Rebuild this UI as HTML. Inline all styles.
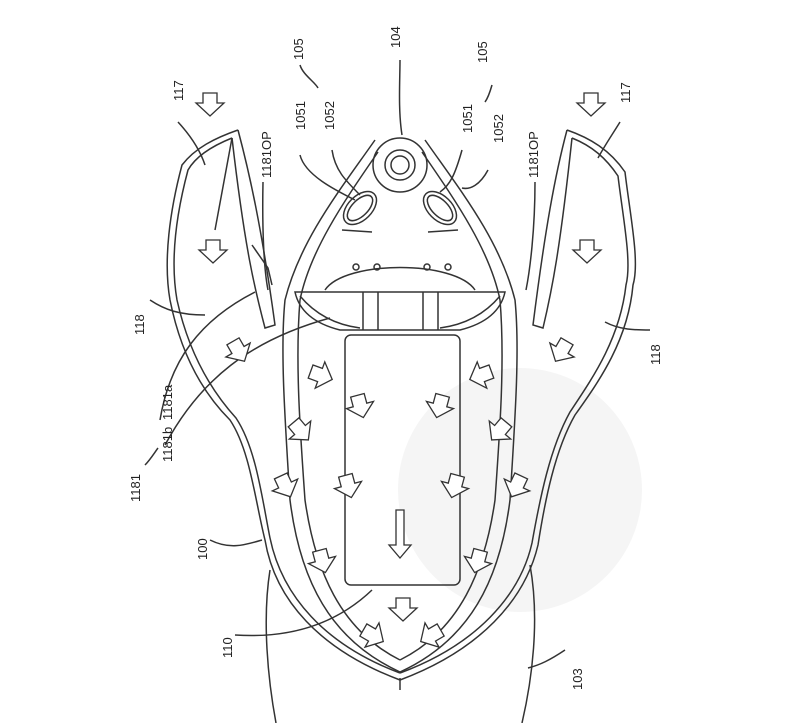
<!DOCTYPE html>
<html><head><style>
html,body{margin:0;padding:0;background:#fff;}
svg{display:block;}
text{font-family:"Liberation Sans",sans-serif;font-size:13px;fill:#222;}
</style></head><body>
<svg width="800" height="723" viewBox="0 0 800 723" xmlns="http://www.w3.org/2000/svg">
<defs>
<path id="ar" d="M-7,-10 L7,-10 L7,0 L14,0 L0,13 L-14,0 L-7,0 Z" fill="#fff" stroke="#333" stroke-width="1.3"/>
</defs>
<circle cx="520" cy="490" r="122" fill="#f5f5f5"/>
<g fill="none" stroke="#333" stroke-width="1.5">
<!-- trunk 103 -->
<path d="M270,570 C262,620 268,680 276,723"/>
<path d="M530,565 C540,620 532,680 522,723"/>
<!-- outer body left -->
<path d="M238,130 C215,138 195,148 182,165 C170,210 163,260 170,300 C180,350 200,390 230,420 C250,450 255,500 265,540 C275,600 320,650 400,680"/>
<path d="M232,138 C212,146 196,156 188,170 C176,215 170,260 177,300 C187,345 206,385 236,418 C256,448 262,498 270,538 C282,596 325,645 400,673"/>
<!-- outer body right -->
<path d="M567,130 C590,138 610,150 625,172 C630,215 640,262 633,285 C628,340 600,380 575,415 C555,450 545,500 538,545 C525,600 480,650 400,680"/>
<path d="M572,138 C592,146 606,158 618,176 C623,218 632,262 626,285 C620,338 594,376 570,412 C550,448 540,498 532,543 C520,596 476,645 400,673"/>
<!-- wing inner edges -->
<path d="M238,130 C250,175 262,230 275,325 L265,328 C255,290 245,250 232,138"/>
<path d="M567,130 C555,175 545,230 533,325 L543,328 C552,290 560,250 572,138"/>
<path d="M215,230 L232,138 M252,245 L268,268 L272,285"/>
<!-- V frame -->
<path d="M375,140 C340,190 300,240 285,300 C280,350 285,420 290,500 C300,580 330,640 400,672"/>
<path d="M425,140 C460,190 500,240 515,300 C520,350 515,420 510,500 C500,580 470,640 400,672"/>
<path d="M378,152 C345,200 310,250 300,300 C295,360 300,430 305,500 C315,570 340,630 400,660"/>
<path d="M422,152 C455,200 490,250 500,300 C505,360 500,430 495,500 C485,570 460,630 400,660"/>
<!-- nose -->
<circle cx="400" cy="165" r="27"/>
<circle cx="400" cy="165" r="15"/>
<circle cx="400" cy="165" r="9"/>
<!-- ovals -->
<ellipse cx="360" cy="208" rx="12" ry="20" transform="rotate(45 360 208)"/>
<ellipse cx="360" cy="208" rx="8" ry="16" transform="rotate(45 360 208)"/>
<ellipse cx="440" cy="208" rx="12" ry="20" transform="rotate(-45 440 208)"/>
<ellipse cx="440" cy="208" rx="8" ry="16" transform="rotate(-45 440 208)"/>
<path d="M342,230 L372,232 M428,232 L458,230"/>
<!-- shield -->
<path d="M325,290 C345,260 455,260 475,290"/>
<path d="M295,292 L505,292 C500,315 480,325 460,330 L340,330 C320,325 300,315 295,292 Z"/>
<path d="M300,296 C320,320 345,326 360,328 M500,296 C480,320 455,326 440,328"/>
<path d="M363,292 L363,330 M378,292 L378,330 M423,292 L423,330 M438,292 L438,330"/>
<circle cx="356" cy="267" r="3"/><circle cx="377" cy="267" r="3"/><circle cx="427" cy="267" r="3"/><circle cx="448" cy="267" r="3"/>
<!-- box -->
<rect x="345" y="335" width="115" height="250" rx="6"/>
<!-- leader lines -->
<path d="M178,122 C190,135 200,150 205,165"/>
<path d="M620,122 C612,135 605,145 598,158"/>
<path d="M300,65 C303,75 315,82 318,88"/>
<path d="M492,85 C490,92 488,98 485,102"/>
<path d="M400,60 C400,80 398,110 402,135"/>
<path d="M300,155 C305,175 335,190 355,200"/>
<path d="M332,150 C335,170 345,180 360,195"/>
<path d="M462,150 C455,175 450,185 440,192"/>
<path d="M488,170 C480,185 470,190 462,188"/>
<path d="M263,182 C262,230 264,270 268,290"/>
<path d="M535,182 C535,230 530,270 526,290"/>
<path d="M150,300 C165,310 180,315 205,315"/>
<path d="M650,330 C635,330 620,330 605,322"/>
<path d="M160,420 C170,360 200,320 255,292"/>
<path d="M165,445 C200,380 250,340 330,318"/>
<path d="M145,465 C150,460 155,452 158,448"/>
<path d="M210,540 C230,550 245,545 262,540"/>
<path d="M235,635 C280,638 330,630 372,590"/>
<path d="M565,650 C550,660 540,665 528,668"/>
<path d="M400,678 L400,690"/>
</g>
<!-- arrows -->
<use href="#ar" transform="translate(210,103)"/>
<use href="#ar" transform="translate(591,103)"/>
<use href="#ar" transform="translate(213,250)"/>
<use href="#ar" transform="translate(587,250)"/>
<use href="#ar" transform="translate(238,350) rotate(-30)"/>
<use href="#ar" transform="translate(562,350) rotate(30)"/>
<use href="#ar" transform="translate(320,375) rotate(-70)"/>
<use href="#ar" transform="translate(482,375) rotate(70)"/>
<use href="#ar" transform="translate(360,405) rotate(-15)"/>
<use href="#ar" transform="translate(440,405) rotate(15)"/>
<use href="#ar" transform="translate(300,430) rotate(-40)"/>
<use href="#ar" transform="translate(500,430) rotate(40)"/>
<use href="#ar" transform="translate(285,485) rotate(-25)"/>
<use href="#ar" transform="translate(348,485) rotate(-15)"/>
<use href="#ar" transform="translate(455,485) rotate(15)"/>
<use href="#ar" transform="translate(517,485) rotate(25)"/>
<use href="#ar" transform="translate(322,560) rotate(-15)"/>
<use href="#ar" transform="translate(478,560) rotate(15)"/>
<use href="#ar" transform="translate(403,608)"/>
<use href="#ar" transform="translate(372,635) rotate(-60)"/>
<use href="#ar" transform="translate(432,635) rotate(60)"/>
<path d="M396,510 L404,510 L404,545 L411,545 L400,558 L389,545 L396,545 Z" fill="#fff" stroke="#333" stroke-width="1.3"/>
<!-- labels -->
<g>
<text transform="translate(183,101) rotate(-90)">117</text>
<text transform="translate(630,103) rotate(-90)">117</text>
<text transform="translate(303,60) rotate(-90)">105</text>
<text transform="translate(487,63) rotate(-90)">105</text>
<text transform="translate(400,48) rotate(-90)">104</text>
<text transform="translate(305,130) rotate(-90)">1051</text>
<text transform="translate(334,130) rotate(-90)">1052</text>
<text transform="translate(472,133) rotate(-90)">1051</text>
<text transform="translate(503,143) rotate(-90)">1052</text>
<text transform="translate(271,178) rotate(-90)">1181OP</text>
<text transform="translate(538,178) rotate(-90)">1181OP</text>
<text transform="translate(144,335) rotate(-90)">118</text>
<text transform="translate(660,365) rotate(-90)">118</text>
<text transform="translate(172,420) rotate(-90)">1181a</text>
<text transform="translate(172,462) rotate(-90)">1181b</text>
<text transform="translate(140,502) rotate(-90)">1181</text>
<text transform="translate(207,560) rotate(-90)">100</text>
<text transform="translate(232,658) rotate(-90)">110</text>
<text transform="translate(582,690) rotate(-90)">103</text>
</g>
</svg>
</body></html>
